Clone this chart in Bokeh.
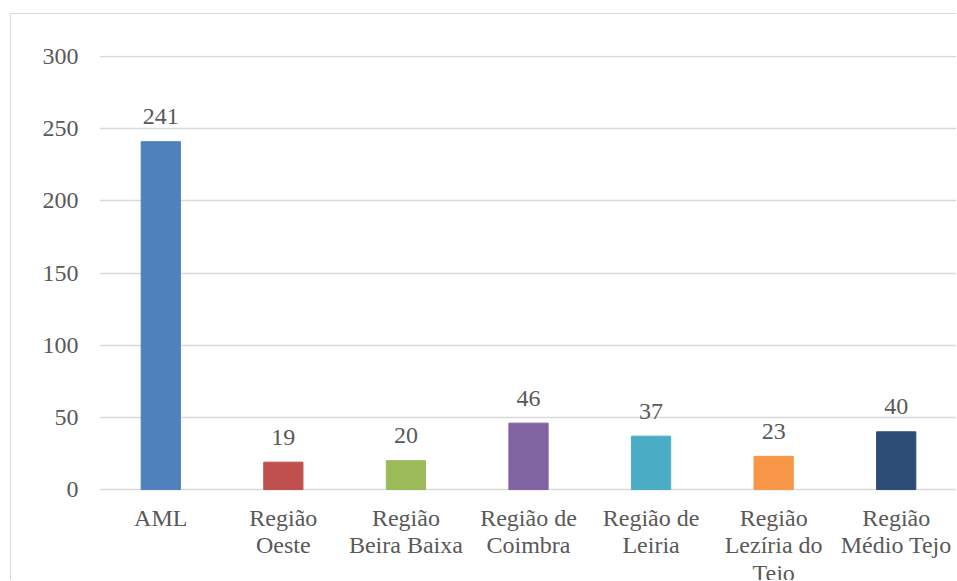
from bokeh.plotting import figure
from bokeh.models import Range1d, FactorRange, ColumnDataSource
from bokeh.core.properties import value
from bokeh.embed import file_html
from bokeh.resources import INLINE

categories = ["AML", "Região Oeste", "Região Beira Baixa", "Região de Coimbra",
              "Região de Leiria", "Região Lezíria do Tejo", "Região Médio Tejo"]
label_line1 = ["AML", "Região", "Região", "Região de", "Região de", "Região", "Região"]
label_line2 = ["", "Oeste", "Beira Baixa", "Coimbra", "Leiria", "Lezíria do", "Médio Tejo"]
label_line3 = ["", "", "", "", "", "Tejo", ""]
values = [241, 19, 20, 46, 37, 23, 40]
colors = ["#4F81BD", "#C0504D", "#9BBB59", "#8064A2", "#4BACC6", "#F79646", "#2C4D75"]
y_ticks = [0, 50, 100, 150, 200, 250, 300]

FONT = "'Liberation Serif', 'Times New Roman', serif"
TXT = "#595959"
GRID = "#D9D9D9"

src = ColumnDataSource(dict(cat=categories, val=values, col=colors,
                            lab=[str(v) for v in values],
                            l1=label_line1, l2=label_line2, l3=label_line3,
                            zero=[0] * len(categories)))

p = figure(x_range=FactorRange(factors=categories, range_padding=0),
           y_range=Range1d(-63.7, 300.7),
           width=946, height=567, output_backend="svg", toolbar_location=None,
           min_border_left=88, min_border_right=0, min_border_top=41,
           min_border_bottom=0)
p.margin = (13, 0, 0, 10)
p.styles = {"border-left": "1px solid #D9D9D9", "border-top": "1px solid #D9D9D9",
            "box-sizing": "border-box"}
p.outline_line_color = None
p.background_fill_color = "white"
p.border_fill_color = "white"

p.vbar(x="cat", top="val", bottom=0, width=0.32, color="col", source=src)
p.text(x="cat", y="val", text="lab", source=src, y_offset=-25,
       text_align="center", text_baseline="alphabetic",
       text_font=value(FONT), text_font_size="24px", text_color=TXT)

for col, off in (("l1", 28), ("l2", 55.5), ("l3", 83)):
    p.text(x="cat", y="zero", text=col, source=src, y_offset=off,
           text_align="center", text_baseline="alphabetic",
           text_font=value(FONT), text_font_size="24px", text_color=TXT)

p.xaxis.visible = False
p.xgrid.grid_line_color = None
p.ygrid.ticker = y_ticks
p.ygrid.grid_line_color = GRID
p.ygrid.grid_line_width = 1.3
p.yaxis.ticker = y_ticks
p.yaxis.axis_line_color = None
p.yaxis.major_tick_line_color = None
p.yaxis.minor_tick_line_color = None
p.yaxis.major_label_text_font = FONT
p.yaxis.major_label_text_font_size = "24px"
p.yaxis.major_label_text_color = TXT
p.yaxis.major_label_standoff = 15

open("out.html", "w").write(file_html(p, INLINE))
